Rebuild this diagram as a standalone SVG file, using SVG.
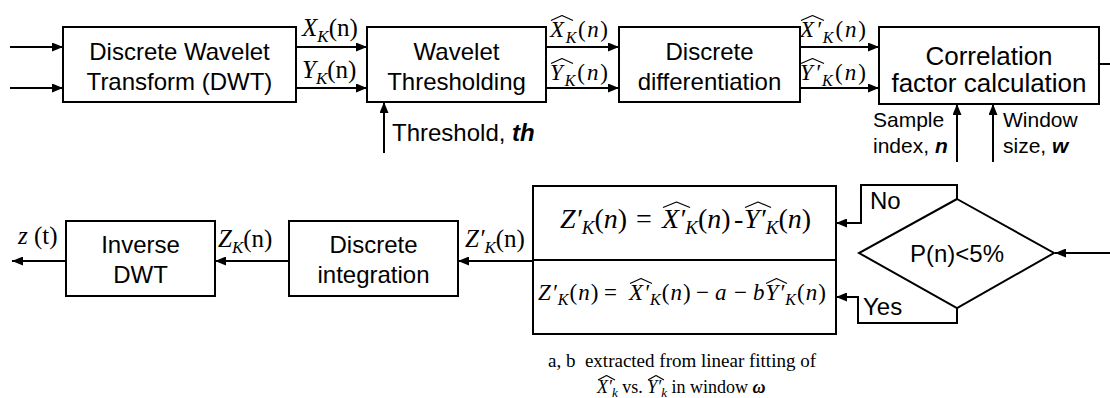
<svg xmlns="http://www.w3.org/2000/svg" width="1110" height="398" viewBox="0 0 1110 398">
<defs>
<style>
.box{fill:#fff;stroke:#000;stroke-width:2}
.ln{fill:none;stroke:#000;stroke-width:2}
.ar{fill:none;stroke:#000;stroke-width:2;marker-end:url(#ah)}
.t{font-family:"Liberation Sans",Arial,sans-serif;font-size:24px;fill:#000}
.tc{font-family:"Liberation Sans",Arial,sans-serif;font-size:26px;fill:#000}
.ts{font-family:"Liberation Sans",Arial,sans-serif;font-size:21px;fill:#000}
.m{font-family:"Liberation Serif","DejaVu Serif",serif;font-size:25px;fill:#000}
.mh{font-family:"Liberation Serif","DejaVu Serif",serif;font-size:23px;fill:#000}
.f1{font-family:"Liberation Serif","DejaVu Serif",serif;font-size:28px;fill:#000}
.f2{font-family:"Liberation Serif","DejaVu Serif",serif;font-size:23px;letter-spacing:1px;fill:#000}
.cap{font-family:"Liberation Serif","DejaVu Serif",serif;font-size:19px;fill:#000}
.cap2{font-family:"Liberation Serif","DejaVu Serif",serif;font-size:18px;fill:#000}
.i{font-style:italic}
.bi{font-style:italic;font-weight:bold}
.hat{fill:none;stroke:#000;stroke-width:1.2;stroke-linejoin:round}
</style>
<marker id="ah" viewBox="0 0 11 9" refX="11" refY="4.5" markerWidth="11" markerHeight="9" markerUnits="userSpaceOnUse" orient="auto">
<path d="M0,0 L11,4.5 L0,9 Z" fill="#000"/>
</marker>
</defs>
<rect width="1110" height="398" fill="#fff"/>

<g id="connectors">
<path class="ar" d="M10,47 H63"/>
<path class="ar" d="M10,88 H63"/>
<path class="ar" d="M296,47 H367"/>
<path class="ar" d="M296,88 H367"/>
<path class="ar" d="M546,47 H619"/>
<path class="ar" d="M546,88 H619"/>
<path class="ar" d="M800,47 H879"/>
<path class="ar" d="M800,88 H879"/>
<path class="ar" d="M384,153 V102"/>
<path class="ar" d="M957,162 V104"/>
<path class="ar" d="M993,162 V104"/>
<path class="ln" d="M1099,64 H1110"/>
<path class="ar" d="M1110,253 H1055"/>
<path class="ar" d="M957,199 V185 H861 V223 H836"/>
<path class="ar" d="M957,308 V323 H858 V297 H836"/>
<path class="ar" d="M533,261 H458"/>
<path class="ar" d="M289,261 H215"/>
<path class="ar" d="M66,261 H12"/>
</g>

<g id="edge-labels">
<text class="m" x="302" y="36"><tspan class="i">X</tspan><tspan class="i" font-size="17" dy="6">K</tspan><tspan dy="-6">(n)</tspan></text>
<text class="m" x="302" y="78"><tspan class="i">Y</tspan><tspan class="i" font-size="17" dy="6">K</tspan><tspan dy="-6">(n)</tspan></text>

<text class="mh" x="550" y="37" textLength="58"><tspan class="i">X</tspan><tspan class="i" font-size="16" dy="6">K</tspan><tspan dy="-6">(</tspan><tspan class="i">n</tspan><tspan>)</tspan></text>
<path class="hat" d="M551,20.5 L562,15.5 L573,20.5"/>
<text class="mh" x="550" y="80" textLength="58"><tspan class="i">Y</tspan><tspan class="i" font-size="16" dy="6">K</tspan><tspan dy="-6">(</tspan><tspan class="i">n</tspan><tspan>)</tspan></text>
<path class="hat" d="M551,63.5 L562,58.5 L573,63.5"/>

<text class="mh" x="800" y="37" textLength="66"><tspan class="i">X′</tspan><tspan class="i" font-size="16" dy="6">K</tspan><tspan dy="-6">(</tspan><tspan class="i">n</tspan><tspan>)</tspan></text>
<path class="hat" d="M801,20.5 L812.5,15.5 L824,20.5"/>
<text class="mh" x="800" y="80" textLength="66"><tspan class="i">Y′</tspan><tspan class="i" font-size="16" dy="6">K</tspan><tspan dy="-6">(</tspan><tspan class="i">n</tspan><tspan>)</tspan></text>
<path class="hat" d="M801,63.5 L812.5,58.5 L824,63.5"/>

<text class="t" x="392" y="141">Threshold, <tspan class="bi">th</tspan></text>
<text class="ts" x="873" y="127">Sample</text>
<text class="ts" x="873" y="153">index, <tspan class="bi">n</tspan></text>
<text class="ts" x="1003" y="127">Window</text>
<text class="ts" x="1003" y="153">size, <tspan class="bi">w</tspan></text>

<text class="m" x="18" y="244"><tspan class="i">z</tspan> (t)</text>
<text class="m" x="218" y="247"><tspan class="i">Z</tspan><tspan class="i" font-size="17" dy="6">K</tspan><tspan dy="-6">(n)</tspan></text>
<text class="m" x="465" y="247"><tspan class="i">Z′</tspan><tspan class="i" font-size="17" dy="6">K</tspan><tspan dy="-6">(n)</tspan></text>

<text class="t" x="870" y="209">No</text>
<text class="t" x="863" y="315">Yes</text>

<text class="cap" x="548" y="367" style="white-space:pre">a, b  extracted from linear fitting of</text>
<text class="cap2" x="597" y="393"><tspan class="i">X′</tspan><tspan class="i" font-size="13" dy="4">k</tspan><tspan dy="-4"> vs. </tspan><tspan class="i">Y′</tspan><tspan class="i" font-size="13" dy="4">k</tspan><tspan dy="-4"> in window </tspan><tspan class="bi">ω</tspan></text>
<path class="hat" d="M598,380 L606.5,375.5 L615,380"/>
<path class="hat" d="M648,380 L656,375.5 L664,380"/>
</g>

<g id="dwt">
<rect class="box" x="63" y="27" width="233" height="75"/>
<text class="t" x="179.5" y="60" text-anchor="middle">Discrete Wavelet</text>
<text class="t" x="179.5" y="90" text-anchor="middle">Transform (DWT)</text>
</g>
<g id="thresholding">
<rect class="box" x="367" y="27" width="179" height="75"/>
<text class="t" x="456.5" y="60" text-anchor="middle">Wavelet</text>
<text class="t" x="456.5" y="90" text-anchor="middle">Thresholding</text>
</g>
<g id="differentiation">
<rect class="box" x="619" y="27" width="181" height="75"/>
<text class="t" x="709.5" y="60" text-anchor="middle">Discrete</text>
<text class="t" x="709.5" y="90" text-anchor="middle">differentiation</text>
</g>
<g id="correlation">
<rect class="box" x="879" y="27" width="220" height="77"/>
<text class="tc" x="989" y="65" text-anchor="middle">Correlation</text>
<text class="tc" x="989" y="92" text-anchor="middle">factor calculation</text>
</g>

<g id="decision">
<path class="box" d="M957,199 L1054,253 L957,308 L859,253 Z"/>
<text class="t" x="957" y="262" text-anchor="middle">P(n)&lt;5%</text>
</g>

<g id="formula">
<rect class="box" x="533" y="186" width="303" height="148"/>
<path class="ln" d="M533,260 H836"/>
<text class="f1" y="228"><tspan x="560" class="i">Z′</tspan><tspan class="i" font-size="19" dy="6">K</tspan><tspan dy="-6">(</tspan><tspan class="i">n</tspan><tspan>)</tspan><tspan x="636">=</tspan><tspan x="662" class="i">X′</tspan><tspan class="i" font-size="19" dy="6">K</tspan><tspan dy="-6">(</tspan><tspan class="i">n</tspan><tspan>)</tspan><tspan x="734">-</tspan><tspan x="744" class="i">Y′</tspan><tspan class="i" font-size="19" dy="6">K</tspan><tspan dy="-6">(</tspan><tspan class="i">n</tspan><tspan>)</tspan></text>
<path class="hat" d="M663,207.5 L676.5,202 L690,207.5"/>
<path class="hat" d="M745,207.5 L758,202 L771,207.5"/>
<text class="f2" y="300"><tspan x="538" class="i">Z′</tspan><tspan class="i" font-size="16" dy="5">K</tspan><tspan dy="-5">(</tspan><tspan class="i">n</tspan><tspan>)</tspan><tspan x="604">=</tspan><tspan x="629" class="i">X′</tspan><tspan class="i" font-size="16" dy="5">K</tspan><tspan dy="-5">(</tspan><tspan class="i">n</tspan><tspan>)</tspan><tspan x="696">−</tspan><tspan x="715" class="i">a</tspan><tspan x="734">−</tspan><tspan x="753" class="i">bY′</tspan><tspan class="i" font-size="16" dy="5">K</tspan><tspan dy="-5">(</tspan><tspan class="i">n</tspan><tspan>)</tspan></text>
<path class="hat" d="M630,283.5 L641,278.5 L652,283.5"/>
<path class="hat" d="M766,283.5 L776.5,278.5 L787,283.5"/>
</g>

<g id="integration">
<rect class="box" x="289" y="221" width="169" height="75"/>
<text class="t" x="373.5" y="253" text-anchor="middle">Discrete</text>
<text class="t" x="373.5" y="283" text-anchor="middle">integration</text>
</g>
<g id="inverse-dwt">
<rect class="box" x="66" y="221" width="149" height="75"/>
<text class="t" x="140.5" y="253" text-anchor="middle">Inverse</text>
<text class="t" x="140.5" y="283" text-anchor="middle">DWT</text>
</g>
</svg>
